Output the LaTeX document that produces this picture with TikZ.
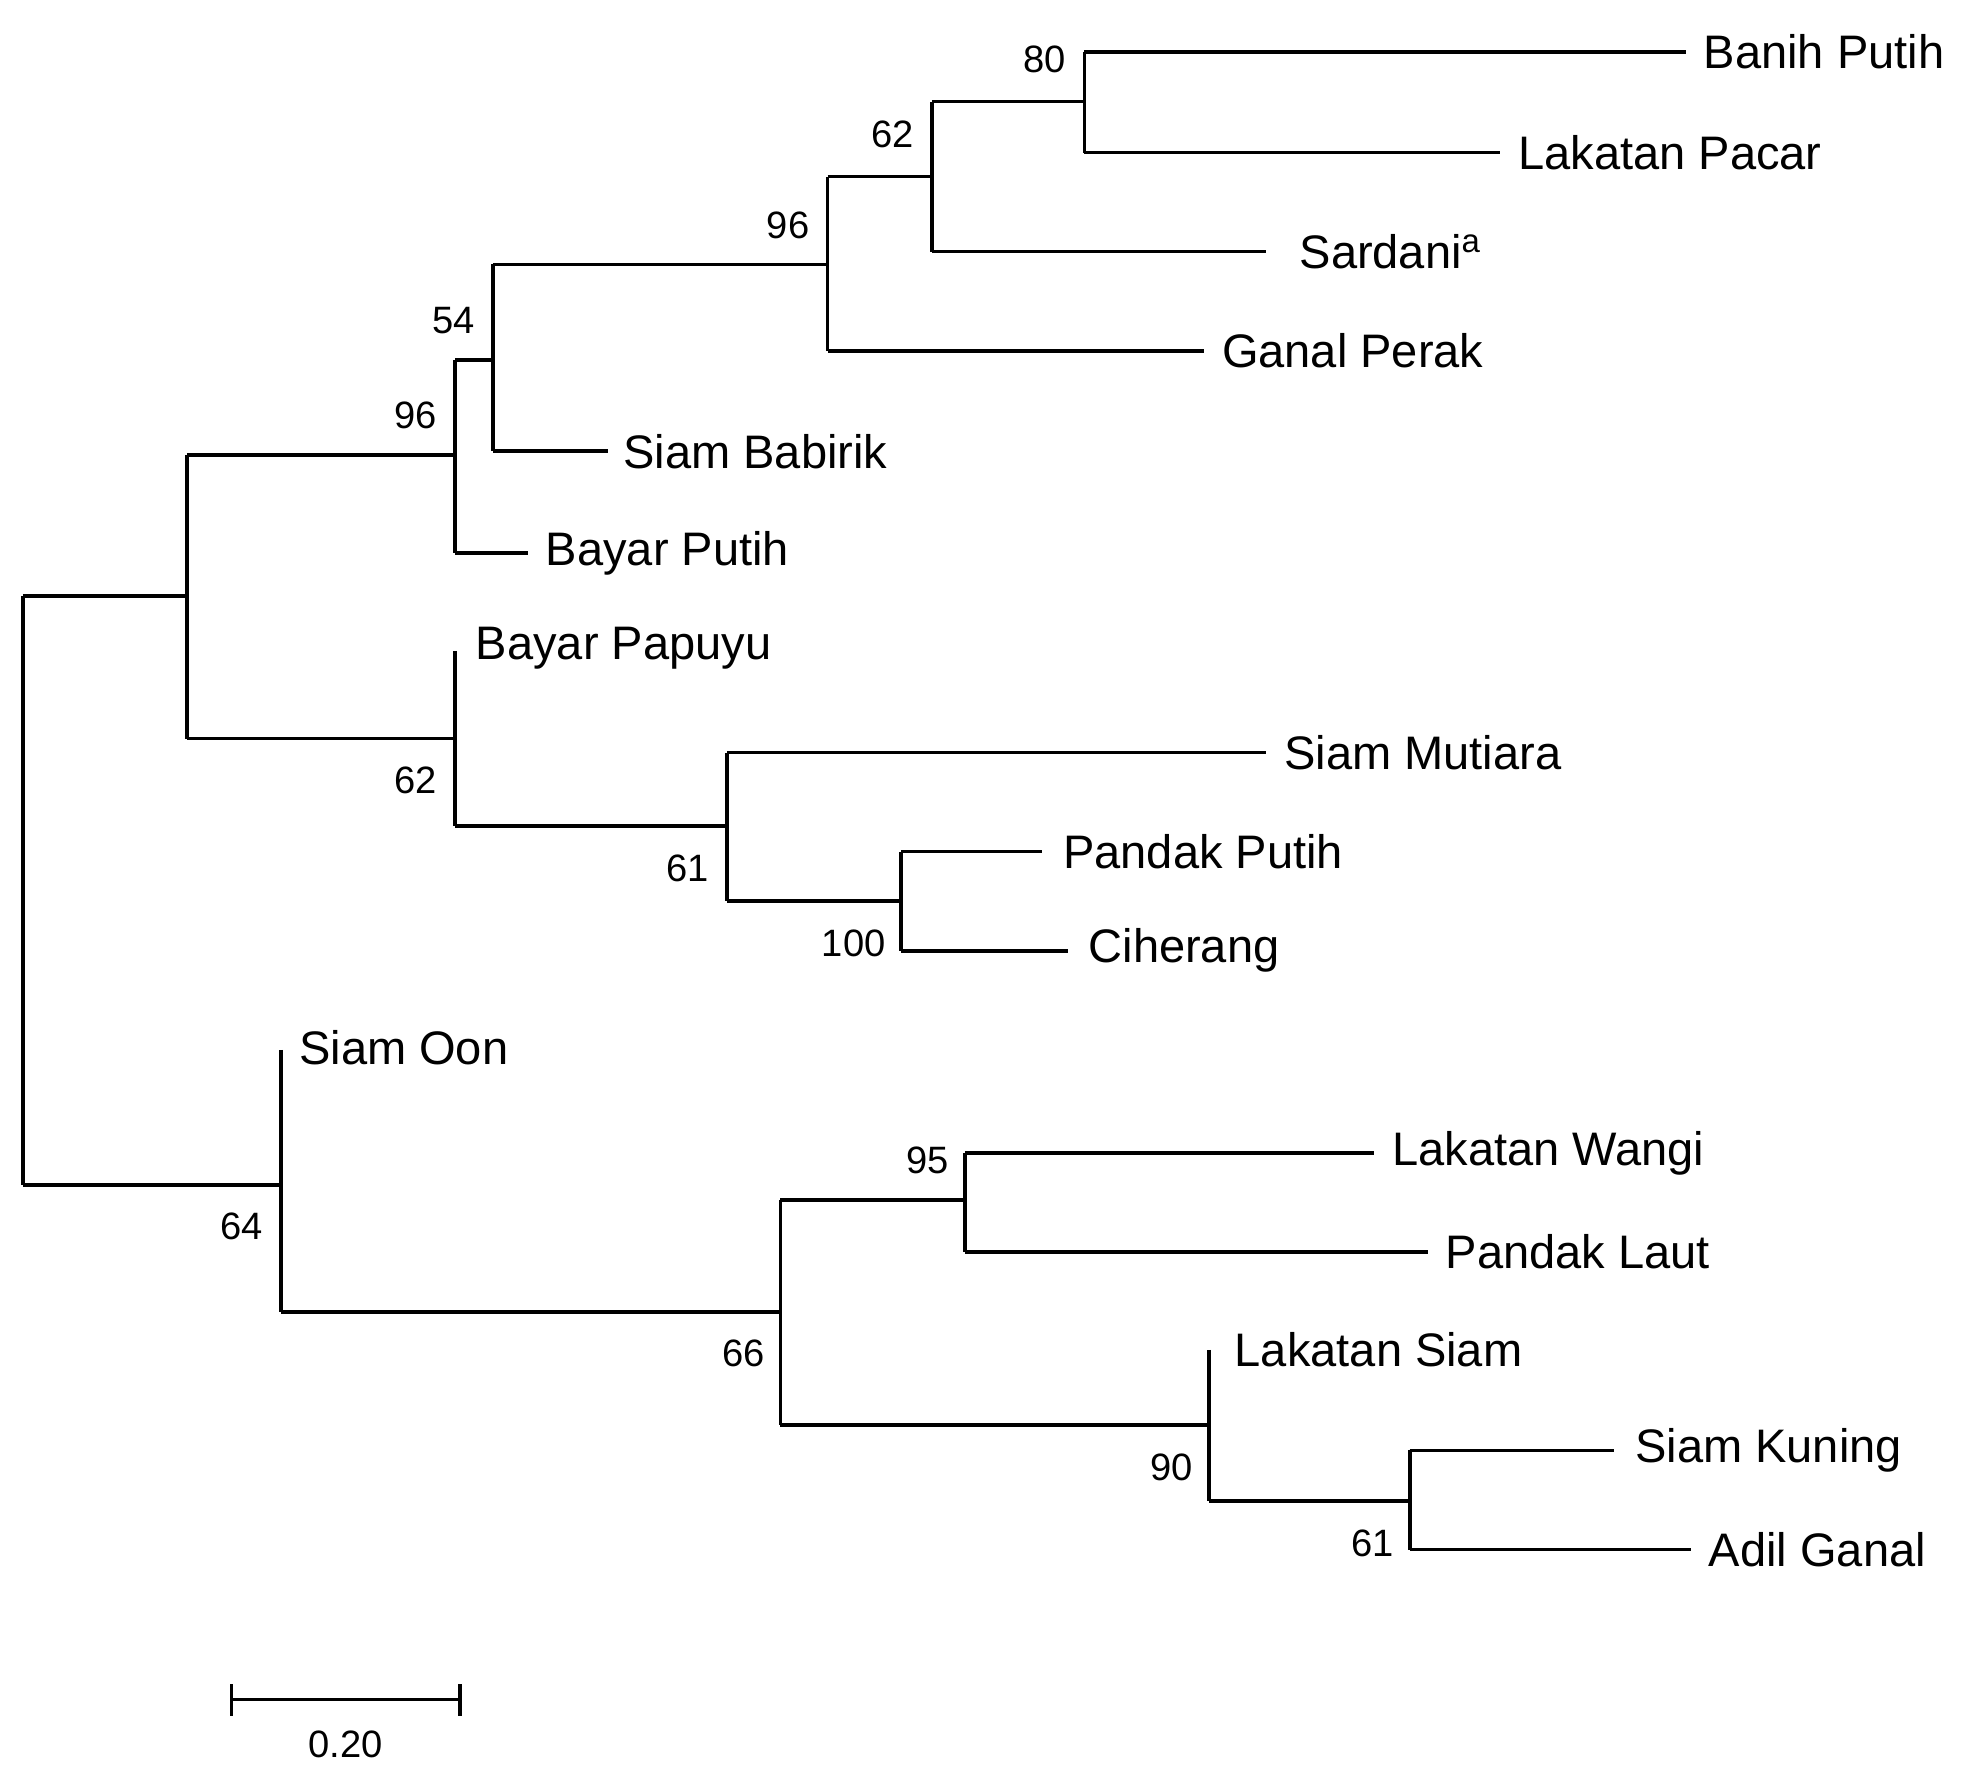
\documentclass[tikz,border=0pt]{standalone}
\usepackage{fontspec}
\setmainfont{Liberation Sans}
\begin{document}
\begin{tikzpicture}[x=0.5pt,y=-0.5pt,
  br/.style={line width=1.4pt},
  leaf/.style={anchor=west,inner sep=0pt,font=\fontsize{18.5}{21}\selectfont},
  bsa/.style={anchor=south east,inner sep=0pt,font=\fontsize{15}{17}\selectfont},
  bsb/.style={anchor=north east,inner sep=0pt,font=\fontsize{15}{17}\selectfont}]
\useasboundingbox (0,0) rectangle (1560,1397);
% internal nodes
\coordinate (r) at (18,469); \coordinate (r2) at (18,932);
\coordinate (a) at (147,469);
\coordinate (n96) at (358,358);
\coordinate (n54) at (388,283);
\coordinate (n96b) at (651,208);
\coordinate (n62) at (733,139);
\coordinate (n80) at (853,80);
\coordinate (n62b) at (358,581);
\coordinate (n61) at (572,650);
\coordinate (n100) at (709,709);
\coordinate (n64) at (221,932);
\coordinate (n66) at (614,1032);
\coordinate (n95) at (759,944);
\coordinate (n90) at (951,1121);
\coordinate (n61b) at (1109,1181);
% leaves
\coordinate (lBP) at (1326,41); \coordinate (lLP) at (1180,120);
\coordinate (lSa) at (996,198); \coordinate (lGP) at (947,276);
\coordinate (lSB) at (478,355); \coordinate (lBy) at (415,435);
\coordinate (lPa) at (358,512); \coordinate (lSM) at (996,592);
\coordinate (lPP) at (820,670); \coordinate (lCi) at (840,748);
\coordinate (lSO) at (221,826); \coordinate (lLW) at (1081,907);
\coordinate (lPL) at (1123,985); \coordinate (lLS) at (951,1062);
\coordinate (lSK) at (1270,1141); \coordinate (lAG) at (1330,1219);
% branches
\draw[br] (r) -- (r2);
\draw[br] (r) -- (a);
\draw[br] (a |- n96) -- (a |- n62b);
\draw[br] (a |- n96) -- (n96); \draw[br] (a |- n62b) -- (n62b);
\draw[br] (n96 |- n54) -- (n96 |- lBy); \draw[br] (n96 |- n54) -- (n54); \draw[br] (n96 |- lBy) -- (lBy);
\draw[br] (n54 |- n96b) -- (n54 |- lSB); \draw[br] (n54 |- n96b) -- (n96b); \draw[br] (n54 |- lSB) -- (lSB);
\draw[br] (n96b |- n62) -- (n96b |- lGP); \draw[br] (n96b |- n62) -- (n62); \draw[br] (n96b |- lGP) -- (lGP);
\draw[br] (n62 |- n80) -- (n62 |- lSa); \draw[br] (n62 |- n80) -- (n80); \draw[br] (n62 |- lSa) -- (lSa);
\draw[br] (n80 |- lBP) -- (n80 |- lLP); \draw[br] (n80 |- lBP) -- (lBP); \draw[br] (n80 |- lLP) -- (lLP);
\draw[br] (lPa) -- (n62b |- n61); \draw[br] (n62b |- n61) -- (n61);
\draw[br] (n61 |- lSM) -- (n61 |- n100); \draw[br] (n61 |- lSM) -- (lSM); \draw[br] (n61 |- n100) -- (n100);
\draw[br] (n100 |- lPP) -- (n100 |- lCi); \draw[br] (n100 |- lPP) -- (lPP); \draw[br] (n100 |- lCi) -- (lCi);
\draw[br] (r2) -- (n64);
\draw[br] (lSO) -- (n64 |- n66); \draw[br] (n64 |- n66) -- (n66);
\draw[br] (n66 |- n95) -- (n66 |- n90); \draw[br] (n66 |- n95) -- (n95); \draw[br] (n66 |- n90) -- (n90);
\draw[br] (n95 |- lLW) -- (n95 |- lPL); \draw[br] (n95 |- lLW) -- (lLW); \draw[br] (n95 |- lPL) -- (lPL);
\draw[br] (lLS) -- (n90 |- n61b); \draw[br] (n90 |- n61b) -- (n61b);
\draw[br] (n61b |- lSK) -- (n61b |- lAG); \draw[br] (n61b |- lSK) -- (lSK); \draw[br] (n61b |- lAG) -- (lAG);
% leaf labels
\node[leaf] (tBP) at ([xshift=7]lBP) {Banih Putih};
\node[leaf] (tLP) at ([xshift=7]lLP) {Lakatan Pacar};
\node[leaf] (tSa) at ([xshift=13]lSa) {Sardani\textsuperscript{a}};
\node[leaf] (tGP) at ([xshift=7]lGP) {Ganal Perak};
\node[leaf] (tSB) at ([xshift=6]lSB) {Siam Babirik};
\node[leaf] (tBy) at ([xshift=7]lBy) {Bayar Putih};
\node[leaf] (tPa) at ([xshift=8,yshift=1]lPa) {Bayar Papuyu};
\node[leaf] (tSM) at ([xshift=7]lSM) {Siam Mutiara};
\node[leaf] (tPP) at ([xshift=8]lPP) {Pandak Putih};
\node[leaf] (tCi) at ([xshift=8]lCi) {Ciherang};
\node[leaf] (tSO) at ([xshift=7,yshift=1]lSO) {Siam Oon};
\node[leaf] (tLW) at ([xshift=7]lLW) {Lakatan Wangi};
\node[leaf] (tPL) at ([xshift=7]lPL) {Pandak Laut};
\node[leaf] (tLS) at ([xshift=10]lLS) {Lakatan Siam};
\node[leaf] (tSK) at ([xshift=8]lSK) {Siam Kuning};
\node[leaf] (tAG) at ([xshift=7]lAG) {Adil Ganal};
% bootstrap values
\node[bsa] (b80) at ([xshift=-7,yshift=11]n80) {80};
\node[bsa] (b62) at ([xshift=-7,yshift=11]n62) {62};
\node[bsa] (b96b) at ([xshift=-7,yshift=10]n96b) {96};
\node[bsa] (b54) at ([xshift=-7,yshift=10]n54) {54};
\node[bsa] (b96) at ([xshift=-7,yshift=10]n96) {96};
\node[bsa] (b95) at ([xshift=-6,yshift=10]n95) {95};
\node[bsb] (b62b) at ([xshift=-7,yshift=-11]n62b) {62};
\node[bsb] (b61) at ([xshift=-7,yshift=-11]n61) {61};
\node[bsb] (b100) at ([xshift=-6,yshift=-11]n100) {100};
\node[bsb] (b64) at ([xshift=-7,yshift=-11]n64) {64};
\node[bsb] (b66) at ([xshift=-6,yshift=-11]n66) {66};
\node[bsb] (b90) at ([xshift=-6,yshift=-11]n90) {90};
\node[bsb] (b61b) at ([xshift=-6,yshift=-11]n61b) {61};
% scale bar
\coordinate (s1) at (182,1337); \coordinate (s2) at (362,1337);
\draw[br] (s1) -- (s2);
\draw[br] ([yshift=6]s1) -- ([yshift=-6.5]s1);
\draw[br] ([yshift=6]s2) -- ([yshift=-6.5]s2);
\node[inner sep=0pt,font=\fontsize{15}{17}\selectfont] (sl) at (272,1372) {0.20};
\end{tikzpicture}
\end{document}
